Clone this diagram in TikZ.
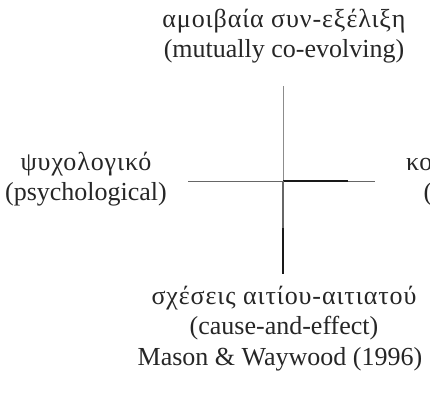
\documentclass[tikz,border=0pt]{standalone}
\usepackage{fontspec}
\setmainfont{Liberation Serif}
\newcommand{\grsp}[1]{{\addfontfeatures{LetterSpace=3.5}#1}}
\begin{document}
\begin{tikzpicture}[x=1pt,y=-1pt,
  lbl/.style={align=center,inner sep=0pt,font=\fontsize{26}{30}\selectfont,text=black!85},
  axthin/.style={draw=black!45,line width=0.7pt},
  axmid/.style={draw=black!60,line width=1pt},
  axdark/.style={draw=black!90,line width=1.1pt}]
\clip (0,0) rectangle (430,399);
\useasboundingbox (0,0) rectangle (430,399);
% labels
\node[lbl] (top) at (284,36) {\grsp{αμοιβαία συν-εξέλιξη}\\(mutually co-evolving)};
\node[lbl] (left) at (86,179) {\grsp{ψυχολογικό}\\(psychological)};
\node[lbl] (right) at (462.5,179) {\grsp{κοινωνικό}\\(social)};
\node[lbl] (bottom) at (284,313) {\grsp{σχέσεις αιτίου-αιτιατού}\\(cause-and-effect)};
\node[lbl] (src) at (280,359) {Mason \& Waywood (1996)};
% axes
\coordinate (c) at (283,181);
\coordinate (n) at (283,86);
\coordinate (s) at (283,274);
\coordinate (s1) at (283,228);
\coordinate (w) at (188,181);
\coordinate (e) at (375,181);
\coordinate (e1) at (348,181);
\draw[axthin] (n) -- (c);
\draw[axmid] (w) -- (e);
\draw[axdark] (c) -- (e1);
\draw[axmid,line width=1.3pt] (c) -- (s);
\draw[axdark,line width=1.3pt] (s1) -- (s);
\end{tikzpicture}
\end{document}
